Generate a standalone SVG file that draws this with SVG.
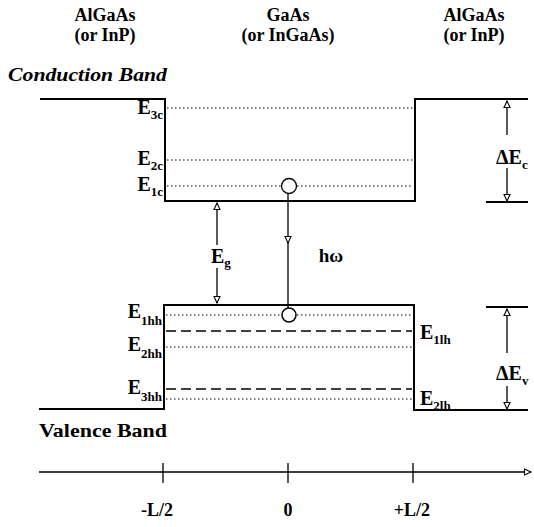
<svg xmlns="http://www.w3.org/2000/svg" width="534" height="527" viewBox="0 0 534 527">
<defs>
<style>
text{font-family:'Liberation Serif','Times New Roman','DejaVu Serif',serif;font-weight:bold;fill:#000}
.t{font-size:18px;text-anchor:middle}
.e{font-size:20px}
.band{fill:none;stroke:#000;stroke-width:2}
.dot{stroke:#000;stroke-width:1.2;stroke-dasharray:1.5 2.5;fill:none}
.dash{stroke:#000;stroke-width:1.6;stroke-dasharray:10 5;fill:none}
.arr{stroke:#000;stroke-width:1.3;fill:none}
</style>
<marker id="ah" markerUnits="userSpaceOnUse" markerWidth="9" markerHeight="9" refX="7" refY="4" orient="auto" viewBox="0 0 9 8">
<path d="M0.5,1 L7,4 L0.5,7 z" fill="#fff" stroke="#000" stroke-width="1.1"/>
</marker>
</defs>
<rect width="534" height="527" fill="#fff"/>

<g font-family="Liberation Serif, Times New Roman, serif" font-weight="bold">
<g id="titles">
<text class="t" x="105" y="21">AlGaAs</text>
<text class="t" x="105" y="41">(or InP)</text>
<text class="t" x="288" y="21">GaAs</text>
<text class="t" x="288" y="41">(or InGaAs)</text>
<text class="t" x="474" y="21">AlGaAs</text>
<text class="t" x="474" y="41">(or InP)</text>
<text x="8" y="81" font-size="18" font-style="italic" textLength="159" lengthAdjust="spacingAndGlyphs">Conduction Band</text>
<text x="39" y="437" font-size="19" textLength="128" lengthAdjust="spacingAndGlyphs">Valence  Band</text>
</g>

<g id="conduction-band">
<path class="band" d="M40,99 H165 V201 H415 V99 H528"/>
<path class="band" d="M486,202 H528"/>
</g>

<g id="valence-band">
<path class="band" d="M39,409 H164 V305 H414 V410 H528"/>
<path class="band" d="M486,307 H528"/>
</g>

<g id="levels">
<path class="dot" d="M167,108 H413"/>
<path class="dot" d="M167,160 H413"/>
<path class="dot" d="M167,186 H281 M297,186 H413"/>
<path class="dot" d="M166,315 H281 M297,315 H412"/>
<path class="dash" d="M166,331 H412"/>
<path class="dot" d="M166,347 H412"/>
<path class="dash" d="M166,389 H412"/>
<path class="dot" d="M166,399 H412"/>
</g>

<g id="electron"><circle cx="289" cy="186" r="7.5" fill="#fff" stroke="#000" stroke-width="1.3"/></g>
<g id="hole"><circle cx="289" cy="315" r="7" fill="#fff" stroke="#000" stroke-width="1.5"/></g>

<g id="level-labels">
<text class="e" x="163" y="114" text-anchor="end">E<tspan dy="5" font-size="13">3c</tspan></text>
<text class="e" x="163" y="165" text-anchor="end">E<tspan dy="5" font-size="13">2c</tspan></text>
<text class="e" x="163" y="191" text-anchor="end">E<tspan dy="5" font-size="13">1c</tspan></text>
<text class="e" x="162" y="318" text-anchor="end">E<tspan dy="7" font-size="13">1hh</tspan></text>
<text class="e" x="162" y="351" text-anchor="end">E<tspan dy="7" font-size="13">2hh</tspan></text>
<text class="e" x="162" y="394" text-anchor="end">E<tspan dy="7" font-size="13">3hh</tspan></text>
<text class="e" x="420" y="339">E<tspan dy="5" font-size="13">1lh</tspan></text>
<text class="e" x="420" y="405">E<tspan dy="5" font-size="13">2lh</tspan></text>
</g>

<g id="connectors">
<path class="arr" d="M217,245 V203" marker-end="url(#ah)"/>
<path class="arr" d="M217,268 V303" marker-end="url(#ah)"/>
<path class="arr" d="M288,193.5 V243" marker-end="url(#ah)"/>
<path class="arr" d="M288,242 V308"/>
<path class="arr" d="M507,135 V101" marker-end="url(#ah)"/>
<path class="arr" d="M507,168 V201" marker-end="url(#ah)"/>
<path class="arr" d="M507,353 V309" marker-end="url(#ah)"/>
<path class="arr" d="M507,386 V409" marker-end="url(#ah)"/>
</g>

<g id="gap-labels">
<text class="e" x="211" y="263">E<tspan dy="4" font-size="13">g</tspan></text>
<text x="331" y="262" font-size="19" text-anchor="middle">hω</text>
<text class="e" x="496" y="164">ΔE<tspan dy="5" font-size="13">c</tspan></text>
<text class="e" x="496" y="380">ΔE<tspan dy="5" font-size="13">v</tspan></text>
</g>

<g id="axis">
<path class="arr" d="M39,472 H531" marker-end="url(#ah)" stroke-width="1.5"/>
<path class="arr" d="M163,463 V483 M288,463 V483 M413,463 V483" stroke-width="1.6"/>
<text class="t" x="157" y="516">-L/2</text>
<text class="t" x="288" y="516">0</text>
<text class="t" x="412" y="516">+L/2</text>
</g>
</g>
</svg>
